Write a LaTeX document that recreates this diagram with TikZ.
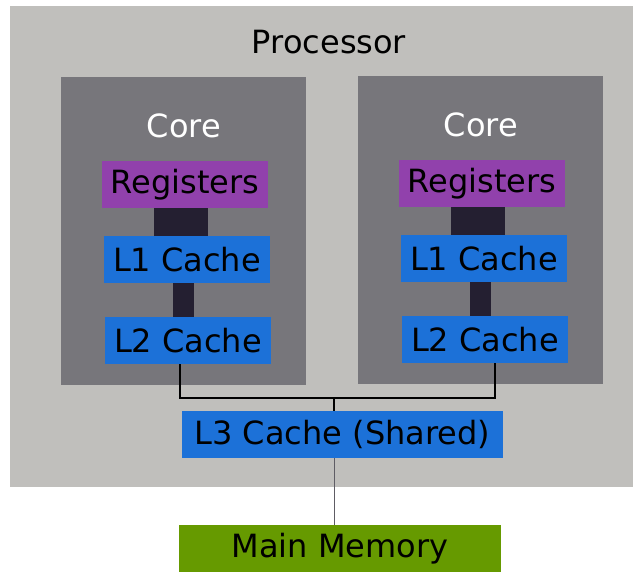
\documentclass[tikz,border=0pt]{standalone}
\usepackage{fontspec}
\setmainfont{DejaVu Sans}
\usetikzlibrary{positioning}
\definecolor{procgray}{HTML}{C0BFBC}
\definecolor{coregray}{HTML}{77767B}
\definecolor{regpurple}{HTML}{9141AC}
\definecolor{cacheblue}{HTML}{1C71D8}
\definecolor{memgreen}{HTML}{669A00}
\definecolor{linkdark}{HTML}{241F31}
\definecolor{wiregray}{HTML}{5E5C64}
\begin{document}
\begin{tikzpicture}[x=1pt, y=-1pt,
    every node/.style={font=\fontsize{32}{38}\selectfont, inner sep=0pt},
    block/.style={minimum width=166pt, minimum height=47pt},
    regblock/.style={block, fill=regpurple},
    cacheblock/.style={block, fill=cacheblue},
    link/.style={draw=linkdark}]
    \useasboundingbox (0,0) rectangle (633,572);
    \fill[procgray] (10,6) rectangle (633,487);
    \node (proc) at (329,42) {Processor};
    \foreach \i/\dx/\dy in {a/0/0, b/297/1}
    {
        \begin{scope}[xshift=\dx pt, yshift=\dy pt]
        \fill[coregray] (61,77) rectangle (306,385);
        \node[text=white] (core\i) at (184,126) {Core};
        \node[regblock] (reg\i) at (185,184.5) {Registers};
        \node[cacheblock] (lone\i) at (187,259.5) {L1 Cache};
        \node[cacheblock] (ltwo\i) at (188,340.5) {L2 Cache};
        \end{scope}
        \draw[link, line width=54pt] ([xshift=-4pt]reg\i.south) -- ([xshift=-6pt]lone\i.north);
        \draw[link, line width=21pt] ([xshift=-3.5pt]lone\i.south) -- ([xshift=-4.5pt]ltwo\i.north);
    }
    \node[block, fill=cacheblue, minimum width=321pt] (lthree) at (342.5,434.5) {L3 Cache (Shared)};
    \node[block, fill=memgreen, minimum width=322pt] (mem) at (340,548.5) {Main Memory};
    \coordinate (bus) at (334,398);
    \draw[line width=2pt] ([xshift=-8pt]ltwoa.south) |- (bus) -| ([xshift=10pt]ltwob.south);
    \draw[line width=2pt] (bus) -- (bus |- lthree.north);
    \draw[wiregray, line width=1pt] (bus |- lthree.south) -- (bus |- mem.north);
\end{tikzpicture}
\end{document}
